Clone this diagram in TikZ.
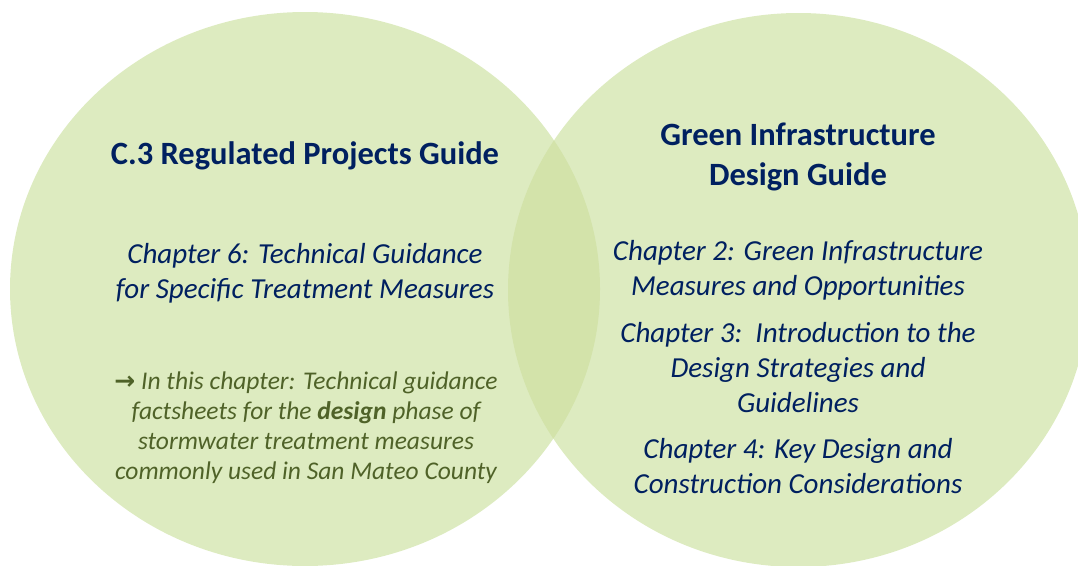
\documentclass[tikz,border=0pt]{standalone}
\usepackage{fontspec}
\setmainfont{Carlito}
\newfontfamily\arrowfont{DejaVu Sans}
\definecolor{circfill}{HTML}{DDEBC0}
\definecolor{lensfill}{HTML}{D3E3AA}
\definecolor{navy}{HTML}{002060}
\definecolor{olivedark}{HTML}{4F6228}
\tikzset{
  titletext/.style={text=navy, align=center, font=\fontsize{32.5}{40}\selectfont\bfseries, inner sep=0pt},
  chaptext/.style={text=navy, align=center, font=\fontsize{29}{35}\selectfont\itshape, inner sep=0pt},
  notetext/.style={text=olivedark, align=center, font=\fontsize{25.5}{30}\selectfont\itshape, inner sep=0pt},
}
\begin{document}
\begin{tikzpicture}[x=1pt,y=-1pt]
\useasboundingbox (0,0) rectangle (1078,565);
\begin{scope}
\clip (0,0) rectangle (1078,565);
\fill[circfill] (305,289) ellipse [x radius=295, y radius=277];
\fill[circfill] (798.5,290) ellipse [x radius=290.5, y radius=277];
\begin{scope}
\clip (305,289) ellipse [x radius=295, y radius=277];
\fill[lensfill] (798.5,290) ellipse [x radius=290.5, y radius=277];
\end{scope}
\end{scope}
\node[titletext] (ltitle) at (305,156) {C.3 Regulated Projects Guide};
\node[chaptext] (ch6) at (305,273) {Chapter 6: Technical Guidance\\for Specific Treatment Measures};
\node[notetext] (note) at (306,428) {{\arrowfont\fontsize{25}{30}\selectfont\upshape\bfseries →} In this chapter: Technical guidance\\factsheets for the \textbf{design} phase of\\stormwater treatment measures\\commonly used in San Mateo County};
\node[titletext] (rtitle) at (798,157) {Green Infrastructure\\Design Guide};
\node[chaptext] (ch2) at (798,270) {Chapter 2: Green Infrastructure\\Measures and Opportunities};
\node[chaptext] (ch3) at (798,368) {Chapter 3:\ \ Introduction to the\\Design Strategies and\\Guidelines};
\node[chaptext] (ch4) at (798,466) {Chapter 4: Key Design and\\Construction Considerations};
\end{tikzpicture}
\end{document}
